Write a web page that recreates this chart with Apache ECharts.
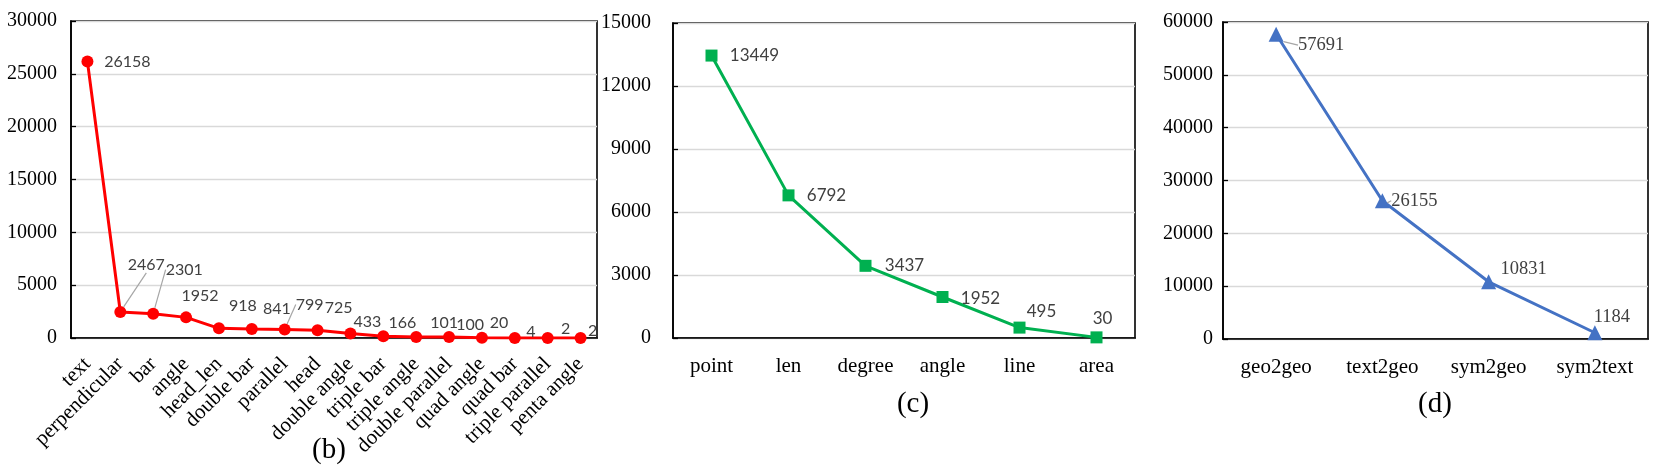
<!DOCTYPE html>
<html><head><meta charset="utf-8">
<script src="https://cdn.jsdelivr.net/npm/echarts@6/dist/echarts.min.js"></script>
<style>html,body{margin:0;padding:0;background:#fff}#c{width:1661px;height:475px}</style>
</head><body><div id="c"></div>
<script>
// ---- data ----
const catB = ['text','perpendicular','bar','angle','head_len','double bar','parallel','head','double angle','triple bar','triple angle','double parallel','quad angle','quad bar','triple parallel','penta angle'];
const valB = [26158,2467,2301,1952,918,841,799,725,433,166,101,100,20,4,2,2];
const ticksB = [0,5000,10000,15000,20000,25000,30000];

const catC = ['point','len','degree','angle','line','area'];
const valC = [13449,6792,3437,1952,495,30];
const ticksC = [0,3000,6000,9000,12000,15000];

const catD = ['geo2geo','text2geo','sym2geo','sym2text'];
const valD = [57691,26155,10831,1184];
const ticksD = [0,10000,20000,30000,40000,50000,60000];

// ---- label placement (style) ----
const offB = [[40,0],[26,-47],[31,-44],[14,-22],[24,-22],[25,-20],[25,-25],[21,-22],[17,-12],[19,-13],[28,-14],[21,-12.5],[17,-15],[16,-6],[18,-9],[12,-7]];
const leadB = [1,2,6];
const offC = [[43,0],[38,0],[39,0],[38,2],[22,-16],[6,-19]];
const leadC = [];
const offD = [[45,11],[32,0],[35,-13],[17,-16]];
const leadD = [0,1];

const SERIF = '"Liberation Serif","Times New Roman",serif';
const SANS = 'Lato,"Open Sans",sans-serif';

function items(vals, leads){
  return vals.map((v,i)=>({value:v, labelLine:{show: leads.indexOf(i)>=0}}));
}
function yAxis(gi, ticks, margin){
  return {type:'value', gridIndex:gi, min:ticks[0], max:ticks[ticks.length-1], interval:ticks[1]-ticks[0],
    axisLine:{show:true,lineStyle:{color:'#000',width:1.6}},
    axisTick:{show:true,inside:true,length:5,lineStyle:{color:'#000',width:1.3}},
    axisLabel:{color:'#000',fontFamily:SERIF,fontSize:20,margin:margin,formatter:function(v){return String(v);}},
    splitLine:{show:true,lineStyle:{color:'#d9d9d9',width:1.3}}};
}
function xAxis(gi, cats, extra){
  return Object.assign({type:'category', gridIndex:gi, data:cats, boundaryGap:true,
    axisLine:{show:true,onZero:false,lineStyle:{color:'#000',width:1.6}},
    axisTick:{show:false},
    axisLabel:{color:'#000',fontFamily:SERIF,fontSize:21,margin:18,interval:0}}, extra||{});
}
function series(gi, vals, leads, offs, color, symbol, size, lab){
  return {type:'line', xAxisIndex:gi, yAxisIndex:gi, data:items(vals, leads),
    symbol:symbol, symbolSize:size, showAllSymbol:true,
    lineStyle:{color:color,width:3}, itemStyle:{color:color},
    label:Object.assign({show:true, position:'inside', color:'#404040'}, lab),
    labelLine:{show:false, lineStyle:{color:'#a6a6a6', width:1.2}, length2:0},
    labelLayout:function(p){ const o = offs[p.dataIndex]; return {dx:o[0], dy:o[1]}; }};
}

const chart = echarts.init(document.getElementById('c'));
chart.setOption({
  animation:false,
  backgroundColor:'#fff',
  grid:[
    {left:71, top:21, width:526, height:317, show:true, borderColor:'#000', borderWidth:1.6, containLabel:false},
    {left:673, top:23, width:462, height:315, show:true, borderColor:'#000', borderWidth:1.6, containLabel:false},
    {left:1223, top:22, width:425, height:317, show:true, borderColor:'#000', borderWidth:1.6, containLabel:false}
  ],
  xAxis:[
    xAxis(0, catB, {axisLabel:{color:'#000',fontFamily:SERIF,fontSize:21,margin:23,interval:0,rotate:45}}),
    xAxis(1, catC),
    xAxis(2, catD)
  ],
  yAxis:[ yAxis(0, ticksB, 14), yAxis(1, ticksC, 22), yAxis(2, ticksD, 10) ],
  series:[
    series(0, valB, leadB, offB, '#ff0000', 'circle', 12, {fontFamily:SANS, fontSize:16}),
    series(1, valC, leadC, offC, '#00b050', 'rect', 12, {fontFamily:SANS, fontSize:17}),
    series(2, valD, leadD, offD, '#4472c4', 'triangle', 15, {fontFamily:SERIF, fontSize:18.5})
  ],
  graphic:[
    {type:'text', x:329, y:450, style:{text:'(b)', font:'29px '+SERIF, fill:'#000', textAlign:'center', textVerticalAlign:'middle'}},
    {type:'text', x:913, y:404, style:{text:'(c)', font:'29px '+SERIF, fill:'#000', textAlign:'center', textVerticalAlign:'middle'}},
    {type:'text', x:1435, y:404, style:{text:'(d)', font:'29px '+SERIF, fill:'#000', textAlign:'center', textVerticalAlign:'middle'}}
  ]
});
</script></body></html>
